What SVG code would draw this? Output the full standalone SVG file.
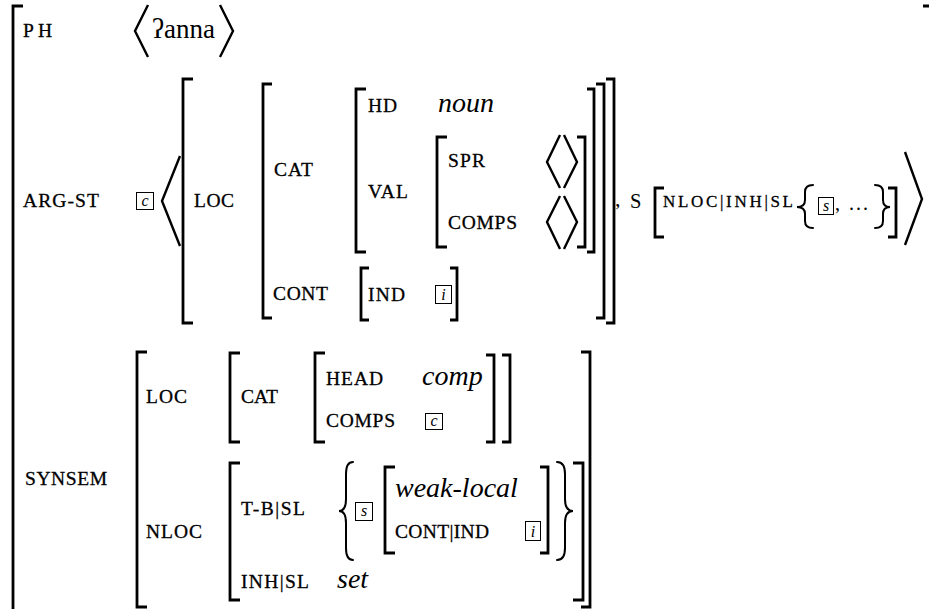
<svg xmlns="http://www.w3.org/2000/svg" width="929" height="609" viewBox="0 0 929 609">
<style>
.br{fill:none;stroke:#000;stroke-width:2.8;stroke-linejoin:miter;stroke-linecap:butt}
.ang{fill:none;stroke:#000;stroke-width:2.4;stroke-linejoin:miter}
.brace{fill:none;stroke:#000;stroke-width:2;stroke-linecap:round}
.l{font-size:19.5px;stroke:#000;stroke-width:0.3}
.sm{font-size:17px;stroke:#000;stroke-width:0.3}
.it{font-style:italic;font-size:28px}
.rm{font-size:27px}
.tb{fill:#fff;stroke:#000;stroke-width:1}
.tt{font-style:italic;font-size:16px;text-anchor:middle}
</style>
<rect width="929" height="609" fill="#fff"/>

<g id="brackets">
<path class="br" d="M23,6 H13 V620"/>
<path class="br" d="M923,6 H931 V620"/>
<path class="br" d="M193,79 H183 V323 H193"/>
<path class="br" d="M606,79 H614 V323 H606"/>
<path class="br" d="M272,84 H263 V318 H272"/>
<path class="br" d="M596,84 H604 V318 H596"/>
<path class="br" d="M366,89 H356 V252 H366"/>
<path class="br" d="M587,89 H594 V252 H587"/>
<path class="br" d="M447,137 H437 V247 H447"/>
<path class="br" d="M577,137 H585 V247 H577"/>
<path class="br" d="M369,268 H361 V320 H369"/>
<path class="br" d="M450,268 H457 V320 H450"/>
<path class="br" d="M664,188 H655 V237 H664"/>
<path class="br" d="M888,188 H896 V237 H888"/>
<path class="br" d="M147,352 H137 V607 H147"/>
<path class="br" d="M581,352 H590 V607 H581"/>
<path class="br" d="M240,353 H230 V442 H240"/>
<path class="br" d="M502,355 H510 V442 H502"/>
<path class="br" d="M325,353 H315 V442 H325"/>
<path class="br" d="M486,355 H494 V442 H486"/>
<path class="br" d="M240,463 H230 V600 H240"/>
<path class="br" d="M573,463 H583 V600 H573"/>
<path class="br" d="M395,467 H385 V553 H395"/>
<path class="br" d="M540,467 H548 V553 H540"/>
</g>

<g id="angles">
<polyline class="ang" points="148,5 135,31 148,57"/>
<polyline class="ang" points="220,5 233,31 220,57"/>
<polyline class="ang" points="180,156 162,201 180,246"/>
<polyline class="ang" points="905,152 922,199 905,245"/>
<polyline class="ang" points="560,135 547,162 560,188"/>
<polyline class="ang" points="564,135 577,162 564,188"/>
<polyline class="ang" points="560,196 547,222 560,249"/>
<polyline class="ang" points="564,196 577,222 564,249"/>
</g>

<g id="braces">
<path class="brace" d="M813,185 Q805,185 805,192 L805,200 Q805,207 797,207 Q805,207 805,214 L805,221 Q805,228 813,228"/>
<path class="brace" d="M875,185 Q883,185 883,192 L883,200 Q883,207 890,207 Q883,207 883,214 L883,221 Q883,228 875,228"/>
<path class="brace" d="M353,462 Q346,462 346,474 L346,499 Q346,511 339,511 Q346,511 346,523 L346,548 Q346,560 353,560"/>
<path class="brace" d="M557,462 Q565,462 565,474 L565,499 Q565,511 573,511 Q565,511 565,523 L565,548 Q565,560 557,560"/>
</g>

<g id="labels" font-family="Liberation Serif, DejaVu Serif, serif" fill="#000">
<text class="l" x="23" y="37" textLength="29">PH</text>
<text class="rm" x="152" y="38">ʔanna</text>
<text class="l" x="23" y="207" textLength="76">ARG-ST</text>
<text class="l" x="194" y="207" textLength="40">LOC</text>
<text class="l" x="274" y="176" textLength="39">CAT</text>
<text class="l" x="273" y="300" textLength="55">CONT</text>
<text class="l" x="368" y="112" textLength="29">HD</text>
<text class="it" x="438" y="112">noun</text>
<text class="l" x="368" y="198" textLength="40">VAL</text>
<text class="l" x="448" y="167" textLength="37">SPR</text>
<text class="l" x="448" y="229" textLength="69">COMPS</text>
<text class="l" x="368" y="301" textLength="37">IND</text>
<text class="rm" x="615" y="206" style="font-size:22px">,</text>
<text class="rm" x="630" y="208" style="font-size:20.5px">S</text>
<text class="sm" x="663" y="207" textLength="130">NLOC|INH|SL</text>
<text class="rm" x="835" y="210" style="font-size:20px">,</text>
<text class="rm" x="849" y="210" style="font-size:20px" textLength="19">...</text>
<text class="l" x="25" y="485" textLength="82">SYNSEM</text>
<text class="l" x="146" y="403" textLength="41">LOC</text>
<text class="l" x="241" y="403" textLength="37">CAT</text>
<text class="l" x="326" y="385" textLength="57">HEAD</text>
<text class="it" x="422" y="385">comp</text>
<text class="l" x="326" y="427" textLength="69">COMPS</text>
<text class="l" x="146" y="538" textLength="56">NLOC</text>
<text class="l" x="241" y="515" textLength="64">T-B|SL</text>
<text class="it" x="395" y="497">weak-local</text>
<text class="l" x="395" y="538" textLength="94">CONT|IND</text>
<text class="l" x="241" y="588" textLength="68">INH|SL</text>
<text class="it" x="337" y="588">set</text>
</g>

<g id="tags" font-family="Liberation Serif, DejaVu Serif, serif">
<rect class="tb" x="136.5" y="192.5" width="17" height="17"/><text class="tt" x="145" y="206">c</text>
<rect class="tb" x="435.5" y="285.5" width="16" height="18"/><text class="tt" x="443.5" y="300">i</text>
<rect class="tb" x="818.5" y="197.5" width="15" height="17"/><text class="tt" x="826" y="211">s</text>
<rect class="tb" x="425.5" y="413.5" width="17" height="16"/><text class="tt" x="434" y="426">c</text>
<rect class="tb" x="355.5" y="502.5" width="17" height="18"/><text class="tt" x="364" y="516">s</text>
<rect class="tb" x="525.5" y="521.5" width="15" height="19"/><text class="tt" x="533" y="537">i</text>
</g>
</svg>
